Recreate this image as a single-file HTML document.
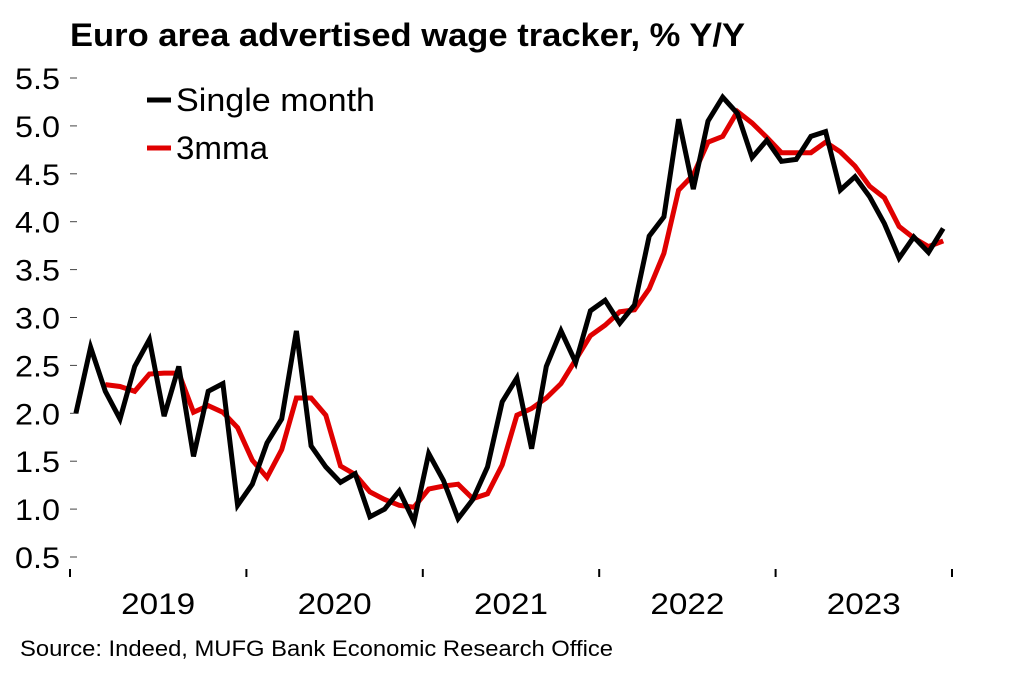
<!DOCTYPE html>
<html><head><meta charset="utf-8"><style>
body{margin:0;background:#fff;}
svg text{font-family:"Liberation Sans",sans-serif;fill:#000;}
</style></head><body>
<svg id="chart" width="1022" height="681" viewBox="0 0 1022 681">
<text x="70" y="46" font-size="32" font-weight="bold" textLength="675" lengthAdjust="spacingAndGlyphs">Euro area advertised wage tracker, % Y/Y</text>
<g id="yaxis"></g>
<g id="xaxis"></g>
<g id="series"></g>
<g>
<line x1="147" y1="100" x2="171" y2="100" stroke="#000" stroke-width="5"/>
<text x="176" y="111" font-size="32" textLength="199" lengthAdjust="spacingAndGlyphs">Single month</text>
<line x1="147" y1="148" x2="171" y2="148" stroke="#e00000" stroke-width="5"/>
<text x="176" y="159" font-size="32" textLength="92" lengthAdjust="spacingAndGlyphs">3mma</text>
</g>
<text x="20" y="656" font-size="22" textLength="593" lengthAdjust="spacingAndGlyphs">Source: Indeed, MUFG Bank Economic Research Office</text>
</svg>
<script>
const years = ["2019","2020","2021","2022","2023"];
const yTicks = [0.5,1.0,1.5,2.0,2.5,3.0,3.5,4.0,4.5,5.0,5.5];
const singleMonth = [2.0,2.69,2.23,1.94,2.49,2.77,1.97,2.49,1.55,2.23,2.31,1.04,
1.26,1.69,1.94,2.86,1.66,1.44,1.28,1.37,0.92,1.0,1.19,0.87,
1.58,1.30,0.90,1.10,1.44,2.12,2.37,1.63,2.49,2.86,2.53,3.07,
3.18,2.94,3.13,3.85,4.05,5.07,4.34,5.05,5.30,5.13,4.67,4.85,
4.63,4.65,4.89,4.94,4.33,4.47,4.26,3.98,3.62,3.84,3.68,3.93];
const mma3 = [null,null,2.30,2.28,2.23,2.41,2.42,2.42,2.01,2.08,2.01,1.85,
1.51,1.33,1.62,2.16,2.16,1.98,1.45,1.36,1.18,1.10,1.04,1.02,
1.21,1.24,1.26,1.11,1.16,1.46,1.98,2.05,2.16,2.31,2.56,2.81,
2.92,3.06,3.08,3.30,3.67,4.33,4.49,4.83,4.89,5.15,5.03,4.88,
4.72,4.72,4.72,4.83,4.73,4.58,4.37,4.25,3.95,3.83,3.74,3.80];
const NS="http://www.w3.org/2000/svg";
const x0=70, yearW=176.4;
function xPos(i){return x0+(i+0.4)*yearW/12;}
function yPos(v){return 557-(v-0.5)*95.8;}
const yax=document.getElementById('yaxis');
yTicks.forEach(t=>{
 const l=document.createElementNS(NS,'line');
 
 
 l.setAttribute('x1',70);l.setAttribute('x2',77);l.setAttribute('y1',yPos(t));l.setAttribute('y2',yPos(t));
 l.setAttribute('stroke','#444');l.setAttribute('stroke-width','1');
 yax.appendChild(l);
 const tx=document.createElementNS(NS,'text');
 
 
 tx.setAttribute('x',60);tx.setAttribute('y',yPos(t)+11);tx.setAttribute('text-anchor','end');tx.setAttribute('font-size','30');
 tx.setAttribute('textLength','45');tx.setAttribute('lengthAdjust','spacingAndGlyphs');
 tx.textContent=t.toFixed(1);yax.appendChild(tx);
});
const xax=document.getElementById('xaxis');
for(let k=0;k<=years.length;k++){
 const l=document.createElementNS(NS,'line');
 
 
 const x=x0+k*yearW;
 l.setAttribute('x1',x);l.setAttribute('x2',x);l.setAttribute('y1',569);l.setAttribute('y2',577);
 l.setAttribute('stroke','#000');l.setAttribute('stroke-width','2');
 xax.appendChild(l);
}
years.forEach((y,k)=>{
 const tx=document.createElementNS(NS,'text');
 
 
 tx.setAttribute('x',x0+(k+0.5)*yearW);tx.setAttribute('y',614);tx.setAttribute('text-anchor','middle');tx.setAttribute('font-size','30');
 tx.setAttribute('textLength','74');tx.setAttribute('lengthAdjust','spacingAndGlyphs');
 tx.textContent=y;xax.appendChild(tx);
});
function path(arr,color){
 let d='';arr.forEach((v,i)=>{if(v==null)return;d+=(d?'L':'M')+xPos(i).toFixed(1)+','+yPos(v).toFixed(1);});
 const p=document.createElementNS(NS,'path');
 p.setAttribute('d',d);p.setAttribute('fill','none');p.setAttribute('stroke',color);p.setAttribute('stroke-width','5');p.setAttribute('stroke-linejoin','miter');
 return p;
}
const s=document.getElementById('series');
const pr=path(mma3,'#e00000');


s.appendChild(pr);
const pb=path(singleMonth,'#000');


s.appendChild(pb);
</script>
</body></html>
